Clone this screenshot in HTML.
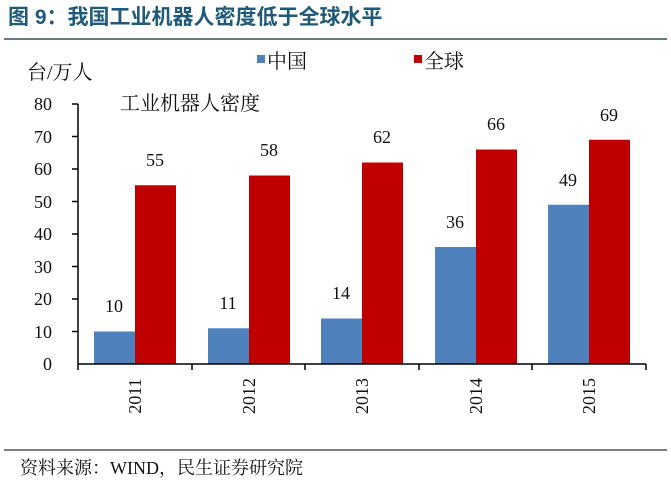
<!DOCTYPE html>
<html><head><meta charset="utf-8"><style>
body{margin:0;background:#fff;}
svg text{font-family:"Liberation Serif","Noto Serif CJK SC",serif;}
</style></head><body>
<svg width="671" height="480" xmlns="http://www.w3.org/2000/svg">
<text x="8" y="24" font-size="21" font-weight="bold" fill="#1f5a78" style="font-family:'Liberation Sans','Noto Sans CJK SC',sans-serif">图 9：我国工业机器人密度低于全球水平</text>
<line x1="4" y1="39" x2="667" y2="39" stroke="#5f7f86" stroke-width="2"/>
<text x="27" y="79" font-size="20" fill="#111">台/万人</text>
<rect x="257" y="55" width="8" height="8" fill="#4f81bd"/>
<text x="267" y="68" font-size="20" fill="#111">中国</text>
<rect x="414" y="55" width="8" height="8" fill="#c00000"/>
<text x="424" y="68" font-size="20" fill="#111">全球</text>
<text x="120" y="110" font-size="20" fill="#111">工业机器人密度</text>
<g font-size="18" fill="#111" text-anchor="end">
<text x="52" y="110">80</text><text x="52" y="143">70</text><text x="52" y="175">60</text><text x="52" y="208">50</text><text x="52" y="240">40</text><text x="52" y="273">30</text><text x="52" y="305">20</text><text x="52" y="338">10</text><text x="52" y="370">0</text>
</g>
<g stroke="#000" stroke-width="1.5">
<line x1="78" y1="104" x2="78" y2="364"/>
<line x1="72" y1="104" x2="78" y2="104"/><line x1="72" y1="136.5" x2="78" y2="136.5"/><line x1="72" y1="169" x2="78" y2="169"/><line x1="72" y1="201.5" x2="78" y2="201.5"/><line x1="72" y1="234" x2="78" y2="234"/><line x1="72" y1="266.5" x2="78" y2="266.5"/><line x1="72" y1="299" x2="78" y2="299"/><line x1="72" y1="331.5" x2="78" y2="331.5"/>
</g>
<g fill="#4f81bd">
<rect x="94" y="331.5" width="41" height="32.5"/>
<rect x="208" y="328.25" width="41" height="35.75"/>
<rect x="321" y="318.5" width="41" height="45.5"/>
<rect x="435" y="247" width="41" height="117"/>
<rect x="548" y="204.75" width="41" height="159.25"/>
</g>
<g fill="#c00000">
<rect x="135" y="185.25" width="41" height="178.75"/>
<rect x="249" y="175.5" width="41" height="188.5"/>
<rect x="362" y="162.5" width="41" height="201.5"/>
<rect x="476" y="149.5" width="41" height="214.5"/>
<rect x="589" y="139.75" width="41" height="224.25"/>
</g>
<g stroke="#000" stroke-width="1.5">
<line x1="78" y1="364" x2="646" y2="364"/>
<line x1="78" y1="364" x2="78" y2="370"/><line x1="192" y1="364" x2="192" y2="370"/><line x1="305" y1="364" x2="305" y2="370"/><line x1="419" y1="364" x2="419" y2="370"/><line x1="532" y1="364" x2="532" y2="370"/><line x1="646" y1="364" x2="646" y2="370"/>
</g>
<g font-size="18" fill="#111" text-anchor="middle">
<text x="114" y="312">10</text><text x="155" y="166">55</text>
<text x="228" y="309">11</text><text x="269" y="156">58</text>
<text x="341" y="299">14</text><text x="382" y="143">62</text>
<text x="455" y="228">36</text><text x="496" y="130">66</text>
<text x="568" y="186">49</text><text x="609" y="121">69</text>
</g>
<g font-size="18" fill="#111" text-anchor="middle">
<text transform="translate(141,396) rotate(-90)">2011</text>
<text transform="translate(255,396) rotate(-90)">2012</text>
<text transform="translate(368,396) rotate(-90)">2013</text>
<text transform="translate(482,396) rotate(-90)">2014</text>
<text transform="translate(595,396) rotate(-90)">2015</text>
</g>
<line x1="4" y1="450" x2="667" y2="450" stroke="#555" stroke-width="1.5"/>
<text x="20" y="474" font-size="18" fill="#111">资料来源：WIND，民生证券研究院</text>
</svg>
</body></html>
